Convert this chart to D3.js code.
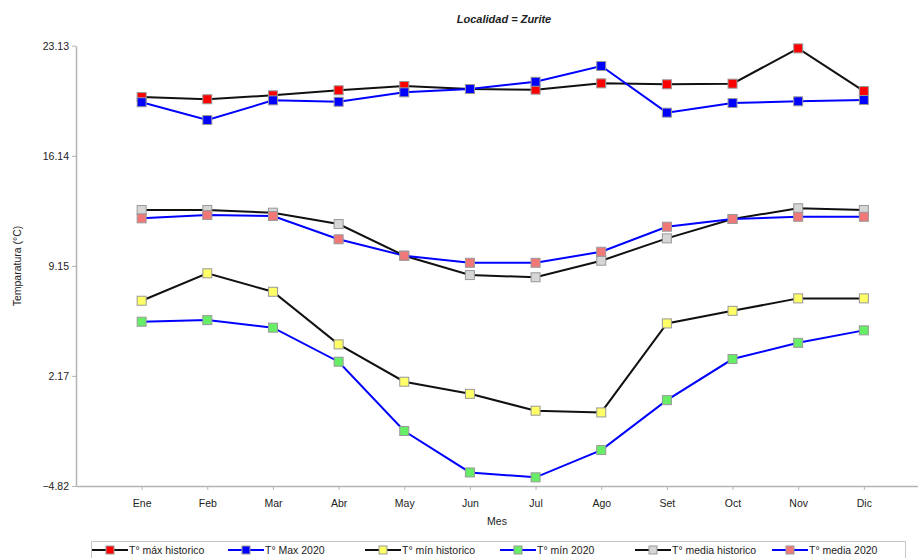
<!DOCTYPE html>
<html lang="es">
<head>
  <meta charset="UTF-8">
  <title>Localidad = Zurite</title>
  <script src="https://d3js.org/d3.v7.min.js"></script>
  <style>
    body {
      margin: 0;
      background: #fff;
      font-family: "Liberation Sans", Arial, sans-serif;
    }
    svg text { fill: #222; }
    .title { font-size: 11px; font-weight: bold; font-style: italic; }
    .axis path, .axis line { stroke: #b4b4b4; }
    .axis text { font-size: 10.5px; fill: #222; }
    .legend text { font-size: 10.5px; }
  </style>
</head>
<body>
<svg width="918" height="558"></svg>
<script>
  // Data
  const months = ["Ene", "Feb", "Mar", "Abr", "May", "Jun", "Jul", "Ago", "Set", "Oct", "Nov", "Dic"];
  const yTicks = [-4.82, 2.17, 9.15, 16.14, 23.13];

  const maxHist  = [19.87, 19.73, 19.98, 20.30, 20.57, 20.38, 20.34, 20.74, 20.68, 20.72, 22.96, 20.25];
  const max2020  = [19.54, 18.41, 19.66, 19.57, 20.17, 20.38, 20.84, 21.84, 18.88, 19.49, 19.60, 19.68];
  const minHist  = [6.94, 8.68, 7.51, 4.17, 1.80, 1.03, -0.04, -0.15, 5.50, 6.30, 7.09, 7.09];
  const min2020  = [5.61, 5.71, 5.23, 3.07, -1.33, -3.96, -4.27, -2.54, 0.63, 3.24, 4.27, 5.06];
  const medHist  = [12.70, 12.70, 12.53, 11.81, 9.80, 8.57, 8.43, 9.48, 10.90, 12.13, 12.81, 12.70];
  const med2020  = [12.17, 12.38, 12.32, 10.84, 9.80, 9.35, 9.35, 10.05, 11.64, 12.13, 12.27, 12.27];

  const series = [
    {name: "T° máx historico", values: maxHist, line: "#111", fill: "#ff0000"},
    {name: "T° Max 2020", values: max2020, line: "#0000ff", fill: "#0000ff"},
    {name: "T° mín historico", values: minHist, line: "#111", fill: "#ffff66"},
    {name: "T° mín 2020", values: min2020, line: "#0000ff", fill: "#66ee66"},
    {name: "T° media historico", values: medHist, line: "#111", fill: "#d6d6d6"},
    {name: "T° media 2020", values: med2020, line: "#0000ff", fill: "#f07878"}
  ];

  const svg = d3.select("svg");
  const plotLeft = 76, plotTop = 45.7, plotBottom = 486;

  const x = d3.scalePoint().domain(months).range([plotLeft, 929.5]).padding(1);
  const y = d3.scaleLinear().domain([-4.82, 23.13]).range([plotBottom, plotTop]);

  // Title
  svg.append("text").attr("class", "title")
    .attr("x", 504).attr("y", 23).attr("text-anchor", "middle")
    .text("Localidad = Zurite");

  // Axes
  const yAxis = svg.append("g").attr("class", "axis")
    .attr("transform", `translate(${plotLeft},0)`)
    .call(d3.axisLeft(y).tickValues(yTicks).tickFormat(d3.format(".2f")).tickSize(4).tickSizeOuter(0));
  yAxis.select(".domain").attr("stroke-width", 1.5);

  const xAxis = svg.append("g").attr("class", "axis")
    .attr("transform", `translate(0,${plotBottom})`)
    .call(d3.axisBottom(x).tickSize(4).tickSizeOuter(0));
  xAxis.select(".domain").attr("stroke-width", 1.5);
  xAxis.selectAll("text").attr("dy", "1.3em");

  svg.append("text")
    .attr("transform", "translate(21,266) rotate(-90)")
    .attr("text-anchor", "middle").attr("font-size", 10.5)
    .text("Temparatura (°C)");

  svg.append("text")
    .attr("x", 497).attr("y", 525).attr("text-anchor", "middle").attr("font-size", 10.5)
    .text("Mes");

  // Lines and markers
  const line = d3.line().x((d, i) => x(months[i])).y(d => y(d));

  series.forEach(s => {
    const g = svg.append("g");
    g.append("path")
      .datum(s.values)
      .attr("d", line)
      .attr("fill", "none")
      .attr("stroke", s.line)
      .attr("stroke-width", 2);
    g.selectAll("rect")
      .data(s.values)
      .join("rect")
      .attr("x", (d, i) => x(months[i]) - 4.5)
      .attr("y", d => y(d) - 4.5)
      .attr("width", 9)
      .attr("height", 9)
      .attr("fill", s.fill)
      .attr("stroke", "#999")
      .attr("stroke-width", 1);
  });

  // Legend
  const legend = svg.append("g").attr("class", "legend");
  legend.append("rect")
    .attr("x", 91.5).attr("y", 541.5).attr("width", 814).attr("height", 30)
    .attr("fill", "none").attr("stroke", "#c8c8c8");

  const legendX = [92, 228, 365, 500, 635, 772];
  series.forEach((s, i) => {
    const lx = legendX[i];
    legend.append("line")
      .attr("x1", lx).attr("x2", lx + 36).attr("y1", 550).attr("y2", 550)
      .attr("stroke", s.line).attr("stroke-width", 2);
    legend.append("rect")
      .attr("x", lx + 14).attr("y", 546).attr("width", 8).attr("height", 8)
      .attr("fill", s.fill).attr("stroke", "#999");
    legend.append("text")
      .attr("x", lx + 37).attr("y", 553.5)
      .text(s.name);
  });
</script>
</body>
</html>
